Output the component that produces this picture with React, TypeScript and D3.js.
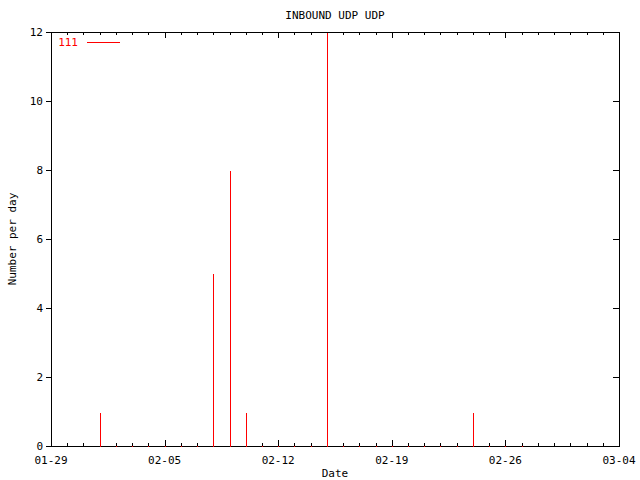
import React from "react";
import * as d3 from "d3";

const title = "INBOUND UDP UDP";
const xLabel = "Date";
const yLabel = "Number per day";
const seriesName = "111";
// dates (UTC, leap year) and counts per day
const dates = [
  "2004-02-01","2004-02-02","2004-02-03","2004-02-04","2004-02-05","2004-02-06","2004-02-07",
  "2004-02-08","2004-02-09","2004-02-10","2004-02-11","2004-02-12","2004-02-13","2004-02-14",
  "2004-02-15","2004-02-16","2004-02-17","2004-02-18","2004-02-19","2004-02-20","2004-02-21",
  "2004-02-22","2004-02-23","2004-02-24","2004-02-25","2004-02-26","2004-02-27"
];
const values = [1,0,0,0,0,0,0, 5,8,1,0,0,0,0, 12,0,0,0,0,0,0, 0,0,1,0,0,0];
const xDomain = ["2004-01-29", "2004-03-04"];
const yTicks = [0, 2, 4, 6, 8, 10, 12];

const W = 640, H = 480;
const L = 51, R = 619, T = 32, B = 446;
const font = "'DejaVu Sans Mono', monospace";

export default function App() {
  const parse = d3.utcParse("%Y-%m-%d");
  const d0 = parse(xDomain[0])!;
  const d1 = parse(xDomain[1])!;
  const x = d3.scaleUtc().domain([d0, d1]).range([L, R]);
  const y = d3.scaleLinear().domain([0, 12]).range([B, T]);
  const nDays = d3.utcDay.count(d0, d1);
  const days = d3.range(0, nDays + 1).map((k) => d3.utcDay.offset(d0, k));
  const majorTicks = d3.range(0, nDays + 1, 7).map((k) => d3.utcDay.offset(d0, k));
  const isMajor = (i: number) => i % 7 === 0;
  const fmt = d3.utcFormat("%m-%d");
  const px = (v: number) => Math.round(v) + 0.5;
  const data = dates.map((d, i) => ({ date: parse(d)!, v: values[i] }));

  return (
    <svg width={W} height={H} style={{ position: "absolute", left: 0, top: 0, background: "#fff" }}
      shapeRendering="crispEdges">
      <rect x={0} y={0} width={W} height={H} fill="#fff" />
      <text x={335} y={19} textAnchor="middle" fontFamily={font} fontSize={11} fill="#000">{title}</text>
      {/* x ticks */}
      {days.map((d, i) => {
        const xx = px(x(d));
        const len = isMajor(i) ? 6 : 3;
        return (
          <g key={i}>
            <line x1={xx} x2={xx} y1={B} y2={B - len} stroke="#000" />
            <line x1={xx} x2={xx} y1={T} y2={T + len} stroke="#000" />
          </g>
        );
      })}
      {majorTicks.map((d, i) => (
        <text key={i} x={x(d)} y={464} textAnchor="middle" fontFamily={font} fontSize={11} fill="#000">{fmt(d)}</text>
      ))}
      {/* y ticks */}
      {yTicks.map((t, i) => {
        const yy = px(y(t));
        return (
          <g key={i}>
            <line x1={L - 5} x2={L} y1={yy} y2={yy} stroke="#000" />
            <line x1={R - 6} x2={R} y1={yy} y2={yy} stroke="#000" />
            <text x={43} y={y(t) + 4} textAnchor="end" fontFamily={font} fontSize={11} fill="#000">{t}</text>
          </g>
        );
      })}
      {/* frame */}
      <rect x={L + 0.5} y={T + 0.5} width={R - L} height={B - T} fill="none" stroke="#000" />
      {/* impulses */}
      {data.map((d, i) => {
        const xx = px(x(d.date));
        return d.v > 0 ? (
          <line key={i} x1={xx} x2={xx} y1={px(y(0))} y2={px(y(d.v))} stroke="#ff0000" />
        ) : (
          <rect key={i} x={Math.round(x(d.date))} y={Math.round(y(0))} width={1} height={1} fill="#ff0000" />
        );
      })}
      {/* legend */}
      <text x={78} y={46} textAnchor="end" fontFamily={font} fontSize={11} fill="#ff0000">{seriesName}</text>
      <line x1={87} x2={120} y1={42.5} y2={42.5} stroke="#ff0000" />
      <text x={335} y={477} textAnchor="middle" fontFamily={font} fontSize={11} fill="#000">{xLabel}</text>
      <text transform={`translate(16,239) rotate(-90)`} textAnchor="middle" fontFamily={font} fontSize={11} fill="#000">{yLabel}</text>
    </svg>
  );
}
